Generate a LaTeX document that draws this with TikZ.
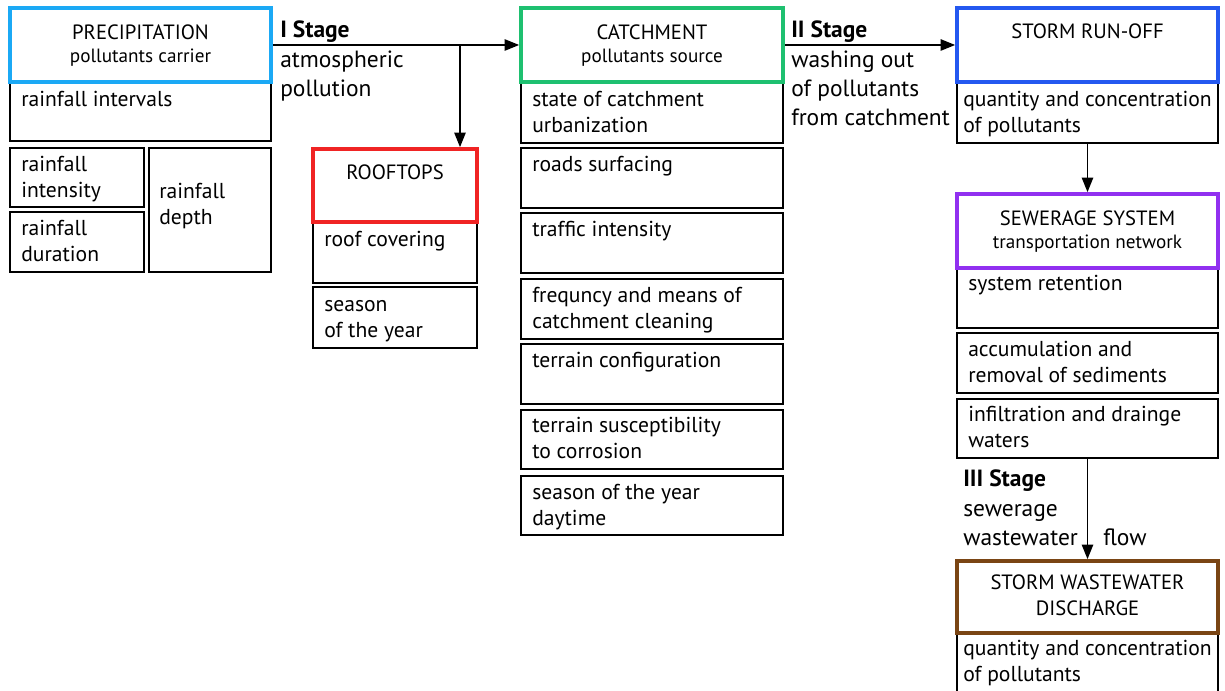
\documentclass[tikz,border=0pt]{standalone}
\usepackage{fontspec}
\setmainfont{PT Sans}
\usetikzlibrary{arrows.meta,fit,calc}
\definecolor{cPrec}{RGB}{27,169,245}
\definecolor{cCatch}{RGB}{30,192,112}
\definecolor{cRoof}{RGB}{240,36,36}
\definecolor{cRun}{RGB}{36,88,240}
\definecolor{cSew}{RGB}{145,48,240}
\definecolor{cDis}{RGB}{122,69,20}
\newcommand\bodyfont{\fontsize{16.2pt}{19.5pt}\selectfont}
\newcommand\titlefont{\fontsize{15.5pt}{17pt}\selectfont}
\newcommand\subtfont{\fontsize{14.4pt}{16pt}\selectfont}
\newcommand\stagefont{\fontsize{17.6pt}{21.75pt}\selectfont}
\newcommand\txtl[1]{\begin{tabular}[t]{@{}l@{}}#1\end{tabular}}
\tikzset{
  ibox/.style={draw=black, line width=1.5pt, inner sep=0pt, outer sep=0pt},
  tbox/.style={line width=2.7pt, inner sep=0pt, fill=white},
  bodytext/.style={anchor=base west, inner sep=0pt, font=\bodyfont},
  titletext/.style={anchor=base, inner sep=0pt, font=\titlefont},
  subtext/.style={anchor=base, inner sep=0pt, font=\subtfont},
  stagetext/.style={anchor=base west, inner sep=0pt, font=\stagefont},
  arr/.style={line width=1.4pt, -{Triangle[length=11pt,width=8.5pt]}},
}
% name, x1, y1, x2, y2, padx, dy, text
\newcommand\ebox[8]{%
  \node[ibox, fit={(#2,#3)(#4,#5)}] (#1) {};
  \node[bodytext] (#1t) at ($(#1.north west)+(#6,#7)$) {\txtl{#8}};
}
\begin{document}
\begin{tikzpicture}[x=0.75pt,y=-0.75pt]
\useasboundingbox[fill=white] (0,0) rectangle (1225,691);

% PRECIPITATION column
\ebox{pint}{10}{82}{271}{141}{11}{25}{rainfall intervals}
\ebox{pinten}{10}{148}{144}{207}{11}{24}{rainfall\\intensity}
\ebox{pdur}{10}{212}{144}{272}{11}{24}{rainfall\\duration}
\ebox{pdep}{149}{148}{271}{272}{10}{51}{rainfall\\depth}
\node[tbox, draw=cPrec, fit={(10,8)(271,82)}] (prec) {};
\node[titletext] (prect) at ($(prec.north)+(0,33)$) {PRECIPITATION};
\node[subtext] (precs) at ($(prec.north)+(0,56)$) {pollutants carrier};

% ROOFTOPS column
\ebox{rcov}{313}{222}{477}{283}{11}{25}{roof covering}
\ebox{rseas}{313}{287}{477}{348}{11}{25}{season\\of the year}
\node[tbox, draw=cRoof, fit={(313,149)(477,222)}] (roof) {};
\node[titletext] (rooft) at ($(roof.north)+(0,32)$) {ROOFTOPS};

% CATCHMENT column
\ebox{c1}{521}{82}{783}{143}{11}{25}{state of catchment\\urbanization}
\ebox{c2}{521}{148}{783}{208}{11}{24}{roads surfacing}
\ebox{c3}{521}{213}{783}{273}{11}{24}{traffic intensity}
\ebox{c4}{521}{279}{783}{339}{11}{24}{frequncy and means of\\catchment cleaning}
\ebox{c5}{521}{344}{783}{404}{11}{24}{terrain configuration}
\ebox{c6}{521}{410}{783}{469}{11}{23}{terrain susceptibility\\to corrosion}
\ebox{c7}{521}{476}{783}{535}{11}{23}{season of the year\\daytime}
\node[tbox, draw=cCatch, fit={(521,8)(783,82)}] (catch) {};
\node[titletext] (catcht) at ($(catch.north)+(0,33)$) {CATCHMENT};
\node[subtext] (catchs) at ($(catch.north)+(0,56)$) {pollutants source};

% RUN-OFF / SEWERAGE column
\ebox{rq}{957}{82}{1218}{143}{6}{25}{quantity and concentration\\of pollutants}
\node[tbox, draw=cRun, fit={(957,8)(1218,82)}] (runoff) {};
\node[titletext] (runofft) at ($(runoff.north)+(0,32)$) {STORM RUN-OFF};

\ebox{s1}{957}{268}{1218}{328}{11}{23}{system retention}
\ebox{s2}{957}{333}{1218}{393}{11}{24}{accumulation and\\removal of sediments}
\ebox{s3}{957}{399}{1218}{458}{11}{23}{infiltration and drainge\\waters}
\node[tbox, draw=cSew, fit={(957,194)(1218,268)}] (sew) {};
\node[titletext] (sewt) at ($(sew.north)+(0,33)$) {SEWERAGE SYSTEM};
\node[subtext] (sews) at ($(sew.north)+(0,56)$) {transportation network};

\ebox{sq}{957}{633}{1218}{700}{6}{22}{quantity and concentration\\of pollutants}
\node[tbox, draw=cDis, fit={(957,561)(1218,633)}] (dis) {};
\node[titletext] (dist) at ($(dis.north)+(0,30)$) {STORM WASTEWATER};
\node[titletext] (dist2) at ($(dis.north)+(0,56)$) {DISCHARGE};

% Connectors
\coordinate (br) at (460,45);
\draw[arr] (prec.east) -- (catch.west);
\draw[arr] (br) -- (br |- roof.north);
\draw[arr] (catch.east) -- (runoff.west);
\draw[arr] (rq.south) -- (sew.north);
\draw[arr] (s3.south) -- (dis.north);

% Stage labels
\node[stagetext] (st1) at (280,38) {\textbf{I Stage}};
\node[stagetext] (st1b) at (280,68) {\txtl{atmospheric\\pollution}};
\node[stagetext] (st2) at (791,38) {\textbf{II Stage}};
\node[stagetext] (st2b) at (791,68) {\txtl{washing out\\of pollutants\\from catchment}};
\node[stagetext] (st3) at (963,487) {\textbf{III Stage}};
\node[stagetext] (st3b) at (963,517) {\txtl{sewerage\\wastewater}};
\node[stagetext] (st3c) at (1103,546) {flow};
\end{tikzpicture}
\end{document}
